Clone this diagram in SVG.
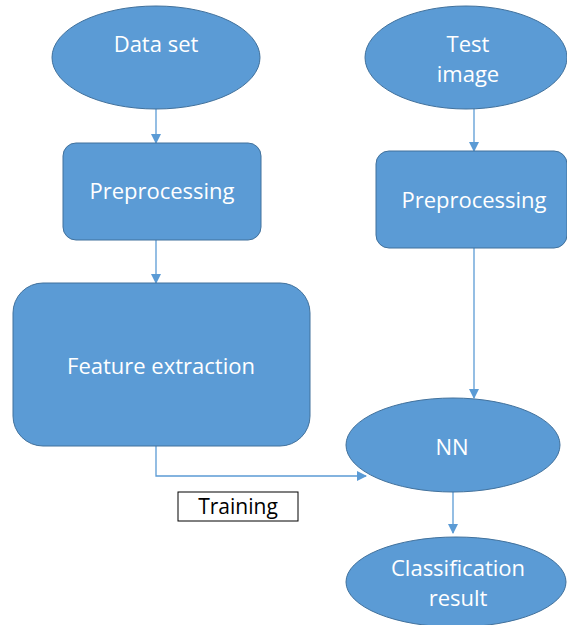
<svg xmlns="http://www.w3.org/2000/svg" width="567" height="625" viewBox="0 0 567 625">
<style>
.n{fill:#5B9BD5;stroke:#41719C;stroke-width:1}
.t{fill:#fff;font-family:"Open Sans","Liberation Sans",sans-serif;font-size:22px;text-anchor:middle}
.c{fill:none;stroke:#5B9BD5;stroke-width:1.3}
</style>
<defs>
<marker id="a" markerWidth="10" markerHeight="10" refX="9" refY="5" orient="auto" markerUnits="userSpaceOnUse">
<path d="M0,0 L10,5 L0,10 z" fill="#5B9BD5"/>
</marker>
</defs>
<rect width="567" height="625" fill="#fff"/>
<g id="connectors">
<line class="c" x1="156" y1="109" x2="156" y2="143" marker-end="url(#a)"/>
<line class="c" x1="474" y1="109" x2="474" y2="151" marker-end="url(#a)"/>
<line class="c" x1="156" y1="240" x2="156" y2="283" marker-end="url(#a)"/>
<line class="c" x1="474" y1="248" x2="474" y2="398" marker-end="url(#a)"/>
<polyline class="c" points="156,446 156,476 366,476" marker-end="url(#a)"/>
<line class="c" x1="453" y1="492" x2="453" y2="533" marker-end="url(#a)"/>
</g>
<g id="dataset"><ellipse class="n" cx="156" cy="57.5" rx="104" ry="51.5"/><text class="t" x="156" y="52">Data set</text></g>
<g id="testimage"><ellipse class="n" cx="466" cy="57.5" rx="101" ry="51.5"/><text class="t" x="468" y="52">Test</text><text class="t" x="468" y="82">image</text></g>
<g id="pre1"><rect class="n" x="63" y="143" width="198" height="97" rx="13"/><text class="t" x="162" y="199">Preprocessing</text></g>
<g id="pre2"><rect class="n" x="376" y="151" width="191" height="97" rx="13"/><text class="t" x="474" y="208">Preprocessing</text></g>
<g id="feature"><rect class="n" x="13" y="283" width="297" height="163" rx="30"/><text class="t" x="161" y="374">Feature extraction</text></g>
<g id="nn"><ellipse class="n" cx="453" cy="445" rx="107" ry="47"/><text class="t" x="452" y="455">NN</text></g>
<g id="training"><rect x="178" y="492" width="120" height="29" fill="#fff" stroke="#000" stroke-width="1"/><text x="238" y="514" font-family="'Open Sans','Liberation Sans',sans-serif" font-size="21" text-anchor="middle" fill="#000">Training</text></g>
<g id="result"><ellipse class="n" cx="456" cy="582" rx="110" ry="45"/><text class="t" x="458" y="576">Classification</text><text class="t" x="458" y="606">result</text></g>
</svg>
